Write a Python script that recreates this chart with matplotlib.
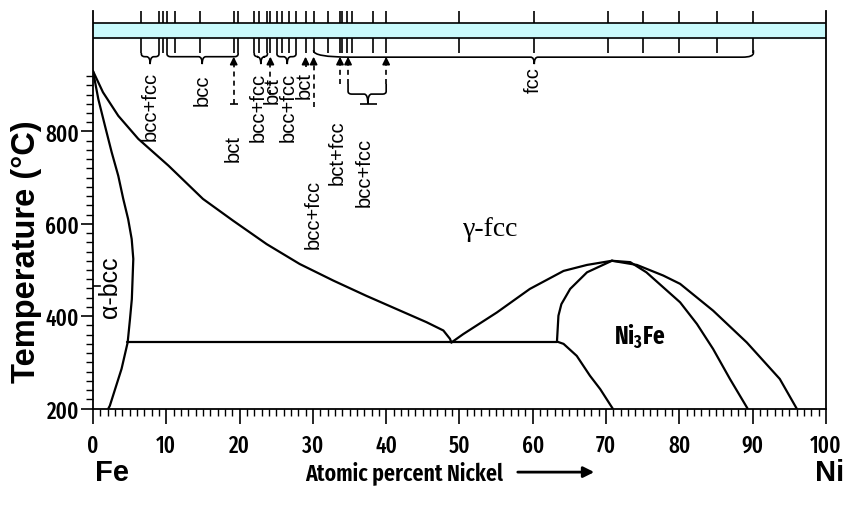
import matplotlib
matplotlib.use("Agg")
import matplotlib.pyplot as plt
from matplotlib.path import Path
from matplotlib.patches import PathPatch, FancyArrowPatch
from matplotlib.ticker import MultipleLocator, FixedLocator

# phase boundaries (at% Ni, deg C)
alpha_x = [0, 0.73, 1.64, 2.55, 3.45, 4.13, 4.8, 5.28, 5.5, 5.4, 5.3, 5.05, 4.73, 3.9, 2.3, 2.1]
alpha_t = [931, 870, 812, 755, 704, 654, 610, 567, 524, 480, 437, 394, 343, 286, 206, 200]

gamma_x = [0, 1.36, 3.45, 6.18, 10.3, 15.0, 19.1, 23.7, 28.2, 32.8, 37.3, 41.9, 45.5, 47.8, 48.7, 48.9]
gamma_t = [931, 885, 834, 784, 726, 654, 607, 556, 513, 477, 444, 412, 387, 369, 351, 343]

eut_x = [4.7, 63.3]
eut_t = [345, 345]

dome_left_x = [48.9, 50.5, 55.1, 59.6, 64.2, 67.4, 70.8]
dome_left_t = [343, 361, 408, 459, 498, 511, 520]

ni3fe_left_x = [63.3, 63.5, 63.9, 65.1, 67.4, 70.8]
ni3fe_left_t = [345, 401, 426, 459, 495, 520]

ni3fe_low_x = [63.3, 64.2, 66.0, 67.8, 69.2, 70.9]
ni3fe_low_t = [345, 340, 314, 271, 242, 200]

ni3fe_right_x = [70.8, 73.3, 75.5, 80.1, 82.4, 84.6, 86.9, 89.3]
ni3fe_right_t = [520, 517, 495, 430, 383, 329, 264, 200]

gamma_right_x = [70.8, 74.2, 77.8, 80.1, 84.6, 89.2, 93.7, 96.0]
gamma_right_t = [520, 511, 488, 470, 412, 343, 264, 200]

# sample compositions marked on the top strip
strip_x = [6.6, 9.0, 9.6, 10.1, 11.2, 14.6, 19.2, 19.8, 22.0, 22.6, 23.8, 24.2,
           25.1, 25.8, 26.8, 27.7, 29.0, 30.1, 32.0, 33.7, 34.0, 34.7, 35.4,
           38.2, 40.0, 50.0, 60.2, 70.2, 75.0, 80.0, 85.1, 90.1]

narrow = ["Fira Sans Extra Condensed", "PT Sans Narrow", "DejaVu Sans"]
sans = ["Liberation Sans", "DejaVu Sans"]
plt.rcParams["mathtext.fontset"] = "custom"
plt.rcParams["mathtext.bf"] = "Fira Sans Extra Condensed:bold"
plt.rcParams["mathtext.rm"] = "Fira Sans Extra Condensed"

fig = plt.figure(figsize=(8.43, 5.06), dpi=100)
ax = fig.add_axes([0.1103, 0.1907, 0.8695, 0.7856])
ax.set_xlim(0, 100)
ax.set_ylim(200, 1061)
ax.spines["top"].set_visible(False)
for s in ["left", "right", "bottom"]:
    ax.spines[s].set_linewidth(1.3)

ax.xaxis.set_major_locator(MultipleLocator(10))
ax.xaxis.set_minor_locator(MultipleLocator(1))
ax.yaxis.set_major_locator(FixedLocator([200, 400, 600, 800]))
ax.yaxis.set_minor_locator(FixedLocator(list(range(200, 940, 20))))
ax.tick_params(axis="x", which="major", direction="out", length=11, width=1.2, pad=7)
ax.tick_params(axis="x", which="minor", direction="out", length=5, width=1)
ax.tick_params(axis="y", which="major", direction="out", length=9, width=1.2, pad=1)
ax.tick_params(axis="y", which="minor", direction="out", length=5, width=1)
for lab in ax.get_xticklabels() + ax.get_yticklabels():
    lab.set_family(narrow)
    lab.set_fontsize(16.5)
    lab.set_weight(500)

lw = 1.6
for xs, ts in [(alpha_x, alpha_t), (gamma_x, gamma_t), (eut_x, eut_t),
               (dome_left_x, dome_left_t), (ni3fe_left_x, ni3fe_left_t),
               (ni3fe_low_x, ni3fe_low_t), (ni3fe_right_x, ni3fe_right_t),
               (gamma_right_x, gamma_right_t)]:
    ax.plot(xs, ts, color="black", lw=lw, solid_capstyle="round")

# top strip
ax.axhspan(1003, 1035, color="#c8fafc", zorder=1)
ax.axhline(1003, color="black", lw=1.2)
ax.axhline(1035, color="black", lw=1.2)
ax.vlines(strip_x, 1035, 1060, color="black", lw=1.2)
ax.vlines(strip_x, 970, 1003, color="black", lw=1.2)


def brace(x0, x1, xm, ytop, y, ytip, rl=0.5, rr=0.5, ryl=6, ryr=6):
    verts = [(x0, ytop), (x0, y + ryl), (x0, y), (x0 + rl, y),
             (xm - 0.5, y), (xm, y), (xm, ytip),
             (xm, y), (xm + 0.5, y),
             (x1 - rr, y), (x1, y), (x1, y + ryr), (x1, ytop)]
    codes = [Path.MOVETO, Path.LINETO, Path.CURVE3, Path.CURVE3,
             Path.LINETO, Path.CURVE3, Path.CURVE3,
             Path.CURVE3, Path.CURVE3,
             Path.LINETO, Path.CURVE3, Path.CURVE3, Path.LINETO]
    ax.add_patch(PathPatch(Path(verts, codes), fill=False, lw=1.2, color="black"))


brace(6.6, 9.0, 7.8, 970, 962, 946)
brace(10.1, 19.8, 14.9, 970, 962, 946)
brace(22.0, 23.8, 22.9, 970, 962, 946)
brace(25.1, 27.7, 26.5, 970, 962, 946)
brace(30.1, 90.1, 60.2, 976, 961, 946, rl=5, ryl=14, rr=1.5, ryr=9)
brace(34.8, 40.0, 37.5, 903, 881, 860)
ax.hlines(859, 36.4, 38.7, color="black", lw=1.2)


def arrow(x, y0, y1=962, dashed=True):
    ax.vlines(x, y0, y1 - 10, color="black", lw=1.2,
              linestyles=(0, (3, 2.5)) if dashed else "solid")
    ax.annotate("", xy=(x, y1), xytext=(x, y1 - 12),
                arrowprops=dict(arrowstyle="-|>", color="black", lw=1.2,
                                mutation_scale=11, shrinkA=0, shrinkB=0))


arrow(19.2, 859)
ax.hlines(859, 18.7, 19.8, color="black", lw=1.2)
arrow(24.2, 880)
arrow(29.0, 940, dashed=False)
arrow(30.1, 853)
arrow(33.7, 903)
arrow(34.8, 903)
arrow(40.0, 903)

# rotated structure labels
labels = [("bcc+fcc", 7.8, 931), ("bcc", 14.9, 925), ("bct", 19.1, 795),
          ("bcc+fcc", 22.5, 929), ("bct", 24.4, 920), ("bcc+fcc", 26.6, 929),
          ("bct", 28.8, 931), ("bcc+fcc", 30.0, 697), ("bct+fcc", 33.3, 827),
          ("bcc+fcc", 37.0, 788), ("fcc", 60.0, 942)]
for txt, x, y in labels:
    ax.text(x, y, txt, rotation=90, ha="center", va="top", fontsize=14.5,
            family=sans)

ax.text(2.3, 466, "\u03b1-bcc", rotation=90, ha="center", va="center",
        fontsize=18, family=sans)
ax.plot([0, 1.0], [465, 465], color="black", lw=1.2)
ax.text(54.2, 590, "\u03b3-fcc", ha="center", va="center", fontsize=20,
        family=["Liberation Serif", "DejaVu Serif"])
ax.text(74.6, 357, "Ni$_\\mathbf{3}$Fe", ha="center", va="center", fontsize=18,
        family=narrow, weight="bold")

fig.text(27 / 843, 0.502, "Temperature (\u00b0C)", rotation=90, ha="center",
         va="center", fontsize=23.5, weight="bold", family=sans)
fig.text(95 / 843, 0.065, "Fe", ha="left", va="center", fontsize=21,
         weight="bold", family=sans)
fig.text(815 / 843, 0.065, "Ni", ha="left", va="center", fontsize=21,
         weight="bold", family=sans)
fig.text(305 / 843, 0.065, "Atomic percent Nickel", ha="left", va="center",
         fontsize=17, family=narrow, weight=600)
fig.add_artist(FancyArrowPatch(
    (515 / 843, 0.065), (597 / 843, 0.065), transform=fig.transFigure,
    arrowstyle="-|>", mutation_scale=16, lw=2, color="black"))

fig.savefig("out.png", dpi=100)
